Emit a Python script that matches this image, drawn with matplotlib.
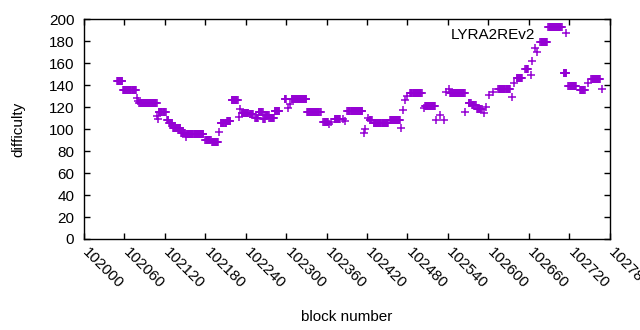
import matplotlib
matplotlib.use("Agg")
import matplotlib.pyplot as plt
import matplotlib.transforms as mtransforms
import numpy as np

plt.rcParams['font.family'] = ['Liberation Sans', 'DejaVu Sans']

# difficulty held over runs of blocks: first block, last block (offset from 102000), value
seg_start = [49, 58, 79, 80, 82, 109, 110, 111, 123, 126, 132, 144, 151, 152, 180, 190,
             201, 203, 212, 219, 230, 231, 234, 246, 254, 259, 266, 269, 275, 283,
             298, 303, 305, 308, 331, 355, 363, 366, 372, 385, 388, 391, 416, 417,
             422, 424, 430, 454, 470, 474, 476, 480, 484, 504, 506, 523, 528, 534,
             537, 541, 543, 566, 571, 576, 583, 593, 597, 601, 607, 615, 635, 638,
             642, 655, 664, 665, 670, 672, 677, 689, 712, 719, 736, 748, 753, 769]
seg_end = [57, 77, 79, 80, 108, 109, 110, 121, 125, 131, 143, 150, 151, 177, 188, 199,
           201, 211, 217, 228, 230, 231, 244, 251, 258, 265, 268, 274, 282, 290,
           300, 303, 305, 330, 351, 362, 363, 366, 380, 385, 388, 413, 416, 417,
           422, 427, 451, 469, 470, 474, 476, 480, 501, 504, 521, 523, 528, 534,
           537, 541, 565, 566, 574, 581, 590, 593, 597, 601, 607, 632, 635, 638,
           650, 659, 664, 665, 670, 672, 687, 709, 716, 730, 743, 748, 766, 769]
seg_diff = [143.6, 135.4, 128.5, 126, 123.5, 112, 109, 115.3, 108, 106, 101.3, 96.8, 93, 95.5, 90, 88,
            97, 105.5, 107, 126.2, 111, 118, 115, 114, 110, 115.6, 109, 113, 110, 116.5,
            127.4, 119, 122.6, 127.4, 115.3, 106.2, 104.4, 106.8, 109, 109.2, 107.7, 116.5, 96.8, 99.9,
            110, 108, 105.3, 108.3, 100.8, 117.4, 126.5, 130.5, 132.6, 119.5, 121, 108.3, 112.9, 108.3,
            134, 136.5, 132.6, 115.9, 123.5, 122, 118, 114.4, 120.4, 131, 133.5, 136.3, 129, 141.7,
            146.3, 154.5, 149.3, 162.3, 173.6, 170.5, 179, 192.7, 150.8, 139.3, 135.6, 141.7, 145.6, 136.5]

blocks = []
diffs = []
for s, e, d in zip(seg_start, seg_end, seg_diff):
    for b in range(s, e + 1):
        blocks.append(102000 + b)
        diffs.append(d)

fs = 11
fig = plt.figure(figsize=(6.4, 3.3), dpi=100)
ax = fig.add_axes([84/640, 1 - 239/330, 525.6/640, 219.7/330])

ax.plot(blocks, diffs, linestyle='none', marker='+', markersize=5.5, mew=1.1,
        color='#9400D3', label='LYRA2REv2')

ax.set_xlim(102000, 102780)
ax.set_ylim(0, 200)
ax.set_xticks(np.arange(102000, 102781, 60))
ax.set_yticks(np.arange(0, 201, 20))
ax.tick_params(direction='in', length=4.5, width=1, top=True, right=True,
               labelsize=fs)
ax.tick_params(axis='y', pad=7)
ax.tick_params(axis='x', pad=4)
shift = mtransforms.ScaledTranslation(6/100, -1/100, fig.dpi_scale_trans)
for lab in ax.get_xticklabels():
    lab.set_rotation(-45)
    lab.set_ha('left')
    lab.set_va('top')
    lab.set_rotation_mode('anchor')
    lab.set_transform(lab.get_transform() + shift)
for sp in ax.spines.values():
    sp.set_linewidth(1)

ax.set_xlabel('block number', fontsize=fs, labelpad=13)
ax.set_ylabel('difficulty', fontsize=fs, labelpad=17)

ax.legend(loc='upper right', bbox_to_anchor=(0.958, 0.99), frameon=False, markerfirst=False,
          fontsize=fs, handlelength=2.0, handletextpad=1.0, borderaxespad=0.0)

fig.savefig('out.png', dpi=100)
